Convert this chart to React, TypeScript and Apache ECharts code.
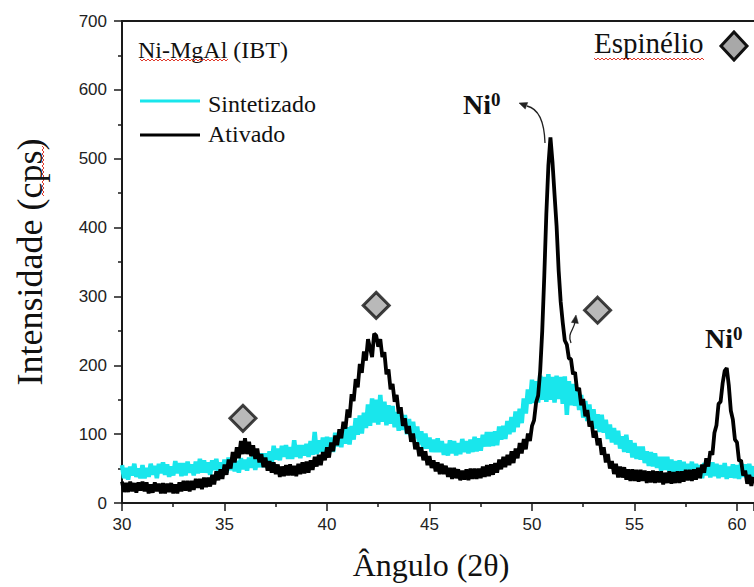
import React, { useEffect, useRef } from 'react';
import * as echarts from 'echarts';

// 2θ sampling of the diffractograms
const ANGLE_START = 30;
const ANGLE_STEP = 0.1;

// Axis ranges
const X_MIN = 30;
const X_MAX = 60.83;
const X_INTERVAL = 5;
const Y_MIN = 0;
const Y_MAX = 700;
const Y_INTERVAL = 100;

// Ni-MgAl (IBT) as synthesised, intensity (cps) every 0.1°
const sintetizado = [
  55, 36, 51, 34, 53, 40, 57, 38, 50, 36,
  55, 36, 51, 38, 57, 41, 54, 36, 57, 43,
  59, 41, 56, 38, 53, 40, 61, 43, 58, 39,
  58, 40, 60, 44, 56, 40, 60, 43, 64, 44,
  62, 44, 59, 41, 62, 48, 64, 44, 59, 43,
  63, 44, 66, 48, 63, 46, 61, 44, 65, 49,
  63, 47, 66, 51, 68, 48, 66, 52, 72, 52,
  72, 56, 75, 56, 83, 63, 79, 62, 83, 67,
  84, 64, 81, 64, 91, 67, 84, 65, 84, 69,
  86, 67, 90, 70, 103, 71, 91, 74, 95, 73,
  96, 74, 95, 74, 102, 82, 102, 81, 110, 86,
  110, 85, 112, 92, 123, 99, 127, 101, 131, 109,
  143, 112, 152, 117, 150, 114, 157, 118, 147, 113,
  142, 115, 141, 110, 132, 105, 131, 106, 128, 100,
  122, 97, 118, 94, 111, 85, 104, 79, 101, 79,
  95, 74, 92, 74, 94, 74, 90, 70, 86, 69,
  91, 72, 90, 69, 87, 71, 93, 74, 90, 72,
  92, 74, 96, 75, 94, 76, 99, 82, 103, 82,
  103, 83, 104, 84, 111, 92, 112, 93, 119, 100,
  125, 103, 133, 110, 137, 116, 152, 130, 165, 144,
  179, 145, 177, 146, 185, 150, 183, 147, 187, 150,
  183, 146, 185, 151, 183, 144, 184, 128, 177, 142,
  173, 141, 167, 135, 157, 124, 148, 119, 143, 112,
  136, 108, 129, 103, 128, 102, 121, 93, 114, 88,
  109, 85, 105, 79, 97, 74, 99, 73, 91, 66,
  87, 64, 82, 63, 82, 58, 75, 54, 74, 53,
  72, 51, 67, 47, 67, 48, 67, 45, 63, 42,
  61, 42, 62, 43, 60, 38, 57, 39, 60, 38,
  57, 38, 55, 36, 58, 40, 56, 37, 59, 39,
  57, 36, 55, 38, 58, 35, 53, 37, 56, 36,
  55, 35, 58, 38, 56, 37, 57, 36, 54,
];

// Ni-MgAl (IBT) after activation, intensity (cps) every 0.1°
const ativado = [
  31, 16, 29, 16, 31, 17, 29, 15, 30, 18,
  31, 17, 30, 14, 27, 15, 30, 17, 28, 14,
  29, 14, 28, 16, 29, 14, 27, 14, 30, 17,
  32, 18, 32, 17, 32, 19, 35, 22, 35, 20,
  37, 23, 37, 24, 41, 27, 46, 33, 49, 35,
  56, 41, 63, 50, 74, 59, 81, 65, 90, 71,
  94, 71, 89, 68, 84, 64, 79, 59, 71, 52,
  66, 47, 61, 44, 59, 42, 56, 38, 53, 39,
  55, 40, 56, 40, 54, 39, 57, 42, 59, 43,
  60, 44, 62, 48, 67, 53, 70, 55, 74, 62,
  81, 66, 88, 75, 98, 84, 107, 94, 118, 108,
  136, 124, 158, 148, 180, 168, 202, 189, 220, 207,
  238, 225, 212, 246, 243, 227, 238, 212, 219, 187,
  194, 165, 173, 147, 157, 130, 139, 112, 123, 101,
  112, 89, 101, 78, 88, 68, 81, 62, 75, 55,
  68, 51, 62, 46, 59, 42, 57, 42, 54, 38,
  51, 35, 51, 36, 49, 33, 47, 34, 49, 33,
  50, 35, 50, 35, 50, 36, 53, 38, 55, 39,
  56, 41, 58, 44, 63, 49, 67, 52, 70, 55,
  75, 58, 79, 65, 87, 72, 93, 78, 101, 90,
  112, 120, 146, 156, 192, 250, 330, 420, 490, 531,
  495, 448, 402, 338, 292, 262, 236, 230, 210, 209,
  187, 190, 163, 167, 142, 151, 126, 135, 111, 119,
  95, 105, 84, 94, 70, 81, 59, 71, 50, 61,
  42, 57, 37, 53, 37, 52, 34, 49, 32, 49,
  32, 48, 31, 48, 32, 47, 29, 46, 30, 47,
  29, 46, 30, 46, 27, 44, 29, 46, 28, 45,
  29, 46, 29, 46, 31, 48, 33, 48, 32, 49,
  34, 51, 36, 56, 44, 65, 53, 75, 70, 102,
  113, 144, 147, 174, 192, 196, 171, 134, 121, 92,
  88, 61, 62, 40, 47, 28, 41, 25, 38,
];

// Spinel reflections marked above the pattern [2θ, cps]
const espinelioMarks = [
  [35.9, 123],
  [42.4, 287],
  [53.2, 280],
];

const SERIF = '"Liberation Serif", "Times New Roman", serif';
const SANS = '"Liberation Sans", Arial, sans-serif';
const CYAN = '#19e6ec';
const AXIS = '#1a1a1a';

function toPairs(values: number[]): number[][] {
  return values.map((v, i) => [Number((ANGLE_START + i * ANGLE_STEP).toFixed(1)), v]);
}

// Spell-checker style wavy underline
function wavy(x0: number, x1: number, y: number): number[][] {
  const pts: number[][] = [];
  let k = 0;
  for (let x = x0; x <= x1; x += 2) {
    pts.push([x, y + (k % 2 === 0 ? 0 : 2)]);
    k++;
  }
  return pts;
}

function wavyVertical(x: number, y0: number, y1: number): number[][] {
  const pts: number[][] = [];
  let k = 0;
  for (let y = y0; y <= y1; y += 2) {
    pts.push([x + (k % 2 === 0 ? 0 : 2), y]);
    k++;
  }
  return pts;
}

function arrowHead(tipX: number, tipY: number, fromX: number, fromY: number, size: number, half: number): number[][] {
  const dx = tipX - fromX;
  const dy = tipY - fromY;
  const len = Math.hypot(dx, dy) || 1;
  const ux = dx / len;
  const uy = dy / len;
  const bx = tipX - ux * size;
  const by = tipY - uy * size;
  return [
    [tipX, tipY],
    [bx - uy * half, by + ux * half],
    [bx + uy * half, by - ux * half],
  ];
}

export default function App() {
  const ref = useRef<HTMLDivElement | null>(null);

  useEffect(() => {
    if (!ref.current) return;
    const chart = echarts.init(ref.current, null, { renderer: 'svg' });

    const option: any = {
      animation: false,
      backgroundColor: '#ffffff',
      grid: { left: 122, right: 0, top: 21, bottom: 84, containLabel: false },
      xAxis: [
        {
          type: 'value',
          min: X_MIN,
          max: X_MAX,
          interval: X_INTERVAL,
          position: 'bottom',
          name: 'Ângulo (2θ)',
          nameLocation: 'middle',
          nameGap: 46,
          nameTextStyle: {
            fontFamily: SERIF,
            fontSize: 32,
            color: '#111',
            padding: [0, 14, 0, 0],
          },
          axisLine: { show: true, onZero: false, lineStyle: { color: AXIS, width: 2 } },
          axisTick: { show: true, inside: false, length: 8, lineStyle: { color: AXIS, width: 1.5 } },
          minorTick: { show: true, splitNumber: 2, length: 4, lineStyle: { color: AXIS, width: 1.5 } },
          axisLabel: {
            show: true,
            margin: 13,
            fontFamily: SANS,
            fontSize: 17,
            color: '#222',
            showMaxLabel: false,
          },
          splitLine: { show: false },
          minorSplitLine: { show: false },
        },
        {
          type: 'value',
          min: X_MIN,
          max: X_MAX,
          position: 'top',
          axisLine: { show: true, onZero: false, lineStyle: { color: AXIS, width: 2 } },
          axisTick: { show: false },
          axisLabel: { show: false },
          splitLine: { show: false },
        },
      ],
      yAxis: {
        type: 'value',
        min: Y_MIN,
        max: Y_MAX,
        interval: Y_INTERVAL,
        name: 'Intensidade (cps)',
        nameLocation: 'middle',
        nameGap: 74,
        nameTextStyle: { fontFamily: SERIF, fontSize: 36, color: '#111' },
        axisLine: { show: true, onZero: false, lineStyle: { color: AXIS, width: 2 } },
        axisTick: { show: true, inside: false, length: 8, lineStyle: { color: AXIS, width: 1.5 } },
        minorTick: { show: true, splitNumber: 2, length: 4, lineStyle: { color: AXIS, width: 1.5 } },
        axisLabel: { margin: 15, fontFamily: SANS, fontSize: 17, color: '#222' },
        splitLine: { show: false },
      },
      series: [
        {
          name: 'Sintetizado',
          type: 'line',
          data: toPairs(sintetizado),
          symbol: 'none',
          lineStyle: { color: CYAN, width: 4.5 },
          z: 2,
          silent: true,
        },
        {
          name: 'Ativado',
          type: 'line',
          data: toPairs(ativado),
          symbol: 'none',
          lineStyle: { color: '#000000', width: 3.8 },
          z: 3,
          silent: true,
        },
        {
          name: 'Espinélio',
          type: 'scatter',
          data: espinelioMarks,
          symbol: 'diamond',
          symbolSize: 26,
          itemStyle: { color: '#a8a8a8', borderColor: '#111', borderWidth: 3 },
          z: 4,
          silent: true,
        },
      ],
      graphic: [
        // sample name
        {
          type: 'text',
          x: 138,
          y: 50,
          style: { text: 'Ni-MgAl (IBT)', fontFamily: SERIF, fontSize: 24, fill: '#111', align: 'left', verticalAlign: 'middle' },
        },
        { type: 'polyline', shape: { points: wavy(140, 228, 59) }, style: { stroke: '#e0392b', lineWidth: 1, fill: 'none' } },
        // legend
        { type: 'line', shape: { x1: 140, y1: 101, x2: 200, y2: 101 }, style: { stroke: CYAN, lineWidth: 3 } },
        {
          type: 'text',
          x: 208,
          y: 104,
          style: { text: 'Sintetizado', fontFamily: SERIF, fontSize: 24, fill: '#111', align: 'left', verticalAlign: 'middle' },
        },
        { type: 'line', shape: { x1: 140, y1: 135, x2: 200, y2: 135 }, style: { stroke: '#000', lineWidth: 3 } },
        {
          type: 'text',
          x: 208,
          y: 134,
          style: { text: 'Ativado', fontFamily: SERIF, fontSize: 24, fill: '#111', align: 'left', verticalAlign: 'middle' },
        },
        // spinel key
        {
          type: 'text',
          x: 594,
          y: 43,
          style: { text: 'Espinélio', fontFamily: SERIF, fontSize: 29, fill: '#111', align: 'left', verticalAlign: 'middle' },
        },
        { type: 'polyline', shape: { points: wavy(594, 704, 58) }, style: { stroke: '#e0392b', lineWidth: 1, fill: 'none' } },
        {
          type: 'polygon',
          shape: { points: [[734, 32], [747, 46], [734, 60], [721, 46]] },
          style: { fill: '#a8a8a8', stroke: '#111', lineWidth: 3 },
        },
        // y title spell mark
        { type: 'polyline', shape: { points: wavyVertical(42, 146, 196) }, style: { stroke: '#e0392b', lineWidth: 1, fill: 'none' } },
        // Ni0 label at the main metallic peak
        {
          type: 'text',
          x: 463,
          y: 104,
          style: {
            text: '{n|Ni}{s|0}',
            align: 'left',
            verticalAlign: 'middle',
            rich: {
              n: { fontFamily: SERIF, fontSize: 28, fontWeight: 'bold', fill: '#111' },
              s: { fontFamily: SERIF, fontSize: 19, fontWeight: 'bold', fill: '#111', verticalAlign: 'top' },
            },
          },
        },
        {
          type: 'bezierCurve',
          shape: { x1: 545, y1: 143, cpx1: 544, cpy1: 110, x2: 527, y2: 106 },
          style: { stroke: '#222', lineWidth: 1.3, fill: 'none' },
        },
        {
          type: 'polygon',
          shape: { points: arrowHead(519, 103, 527, 106, 8, 3.5) },
          style: { fill: '#222', stroke: '#222', lineWidth: 0.5 },
        },
        // shoulder arrow towards the spinel mark
        {
          type: 'bezierCurve',
          shape: { x1: 571, y1: 343, cpx1: 567, cpy1: 333, cpx2: 574, cpy2: 330, x2: 575, y2: 322 },
          style: { stroke: '#222', lineWidth: 1.3, fill: 'none' },
        },
        {
          type: 'polygon',
          shape: { points: arrowHead(576, 315, 575, 322, 8, 3.5) },
          style: { fill: '#222', stroke: '#222', lineWidth: 0.5 },
        },
        // Ni0 label at the second metallic peak
        {
          type: 'text',
          x: 705,
          y: 338,
          style: {
            text: '{n|Ni}{s|0}',
            align: 'left',
            verticalAlign: 'middle',
            rich: {
              n: { fontFamily: SERIF, fontSize: 28, fontWeight: 'bold', fill: '#111' },
              s: { fontFamily: SERIF, fontSize: 19, fontWeight: 'bold', fill: '#111', verticalAlign: 'top' },
            },
          },
        },
      ],
    };

    chart.setOption(option);
    return () => {
      chart.dispose();
    };
  }, []);

  return <div ref={ref} style={{ position: 'absolute', left: 0, top: 0, width: 754, height: 587 }} />;
}
